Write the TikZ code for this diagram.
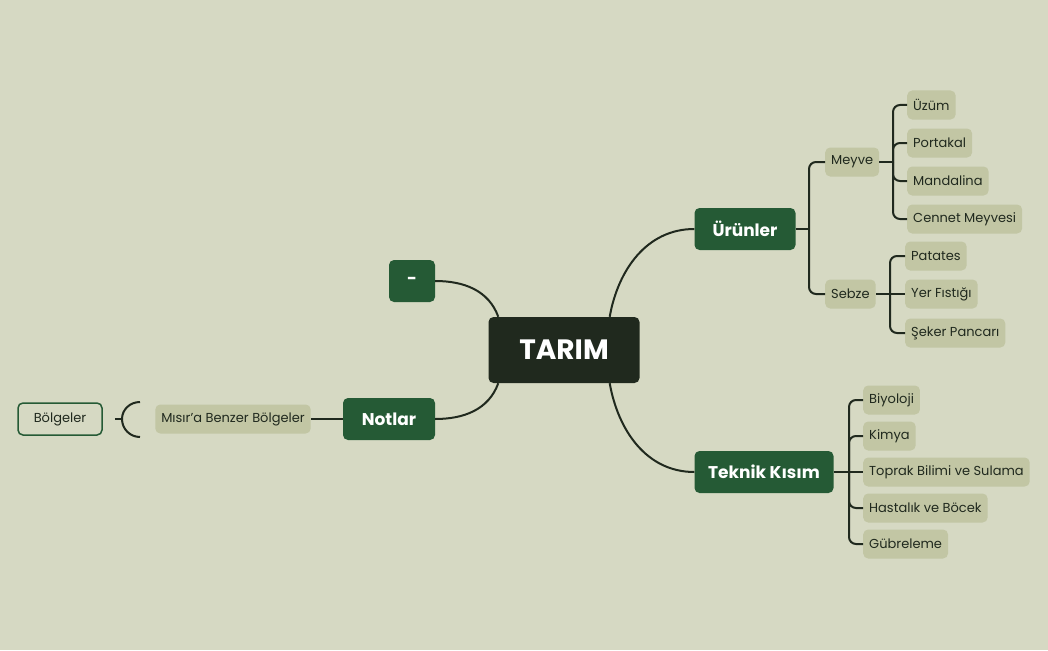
\documentclass[tikz,border=0pt]{standalone}
\usepackage{fontspec}
\setmainfont{Poppins}
\definecolor{bg}{HTML}{D6D9C3}
\definecolor{dk}{HTML}{20291E}
\definecolor{gr}{HTML}{255A35}
\definecolor{lt}{HTML}{C2C6A4}
\begin{document}
\begin{tikzpicture}[x=1pt,y=-1pt,
 root/.style={fill=dk,text=white,rounded corners=5pt,minimum width=151pt,minimum height=66pt,font=\fontsize{28}{30}\selectfont\bfseries},
 main/.style={fill=gr,text=white,rounded corners=5pt,minimum height=42pt,inner xsep=10pt,font=\fontsize{17}{19}\selectfont\bfseries},
 sub/.style={fill=lt,text=dk,rounded corners=5pt,minimum height=29pt,inner xsep=6pt,font=\fontsize{13}{15}\selectfont,anchor=west},
 outbox/.style={draw=gr,line width=1.5pt,text=dk,rounded corners=5pt,minimum height=32pt,minimum width=84pt,font=\fontsize{13}{15}\selectfont},
 ln/.style={draw=dk,line width=2pt},
 tl/.style={ln,rounded corners=7pt}]
\fill[bg] (0,0) rectangle (1048,650);
\useasboundingbox (0,0) rectangle (1048,650);
\node[root] (t) at (564,350) {TARIM};
\node[main,minimum width=101pt] (u) at (745,229) {Ürünler};
\node[main,minimum width=139pt] (k) at (764,472) {Teknik Kısım};
\node[main,minimum width=92pt] (n) at (389,419) {Notlar};
\node[main,minimum width=46pt] (d) at (412,281) {-};
\node[sub,anchor=center] (m) at (233,419) {Mısır'a Benzer Bölgeler};
\node[outbox] (b) at (60,419) {Bölgeler};
\node[sub] (me) at (825,162) {Meyve};
\node[sub] (se) at (825,294) {Sebze};
\node[sub] (f1) at (907,105) {Üzüm};
\node[sub] (f2) at (907,143) {Portakal};
\node[sub] (f3) at (907,181) {Mandalina};
\node[sub] (f4) at (907,219) {Cennet Meyvesi};
\node[sub] (s1) at (905,256) {Patates};
\node[sub] (s2) at (905,294) {Yer Fıstığı};
\node[sub] (s3) at (905,333) {Şeker Pancarı};
\node[sub] (k1) at (863,400) {Biyoloji};
\node[sub] (k2) at (863,436) {Kimya};
\node[sub] (k3) at (863,472) {Toprak Bilimi ve Sulama};
\node[sub] (k4) at (863,508) {Hastalık ve Böcek};
\node[sub] (k5) at (863,544) {Gübreleme};
% main connectors
\draw[ln] ([xshift=-30pt]t.north east) to[out=80,in=180] (u.west);
\draw[ln] ([xshift=-30pt]t.south east) to[out=-80,in=180] (k.west);
\draw[ln] ([xshift=10pt]t.north west) to[out=110,in=0] (d.east);
\draw[ln] ([xshift=10pt]t.south west) to[out=-110,in=0] (n.east);
\draw[ln] (n.west) -- (m.east);
% Bölgeler brace
\coordinate (bb) at (122,419);
\draw[ln] (b.east)++(12pt,0) -- (bb);
\draw[ln] (140,402) to[out=180,in=90] (bb) to[out=-90,in=180] (140,437);
% Ürünler tree
\draw[ln] (u.east) -- (809,229);
\draw[tl] (me.west) -| (809,229) |- (se.west);
\draw[ln] (me.east) -- (893,162);
\draw[tl] (f1.west) -| (893,162);
\draw[tl] (f4.west) -| (893,162);
\draw[tl] (f2.west) -| (893,162);
\draw[tl] (f3.west) -| (893,162);
\draw[ln] (se.east) -- (s2.west);
\draw[tl] (s1.west) -| (890,294) |- (s3.west);
% Teknik tree
\draw[ln] (k.east) -- (k3.west);
\draw[tl] (k1.west) -| (849,472) |- (k5.west);
\draw[tl] (k2.west) -| (849,472);
\draw[tl] (k4.west) -| (849,472);
\end{tikzpicture}
\end{document}
